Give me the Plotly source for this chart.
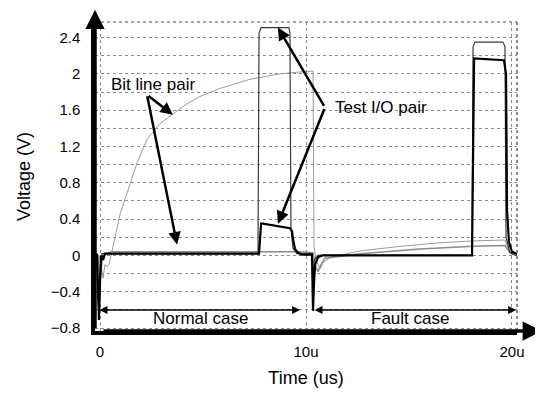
import plotly.graph_objects as go

# ---- data (time in us, voltage in V) ----
# Bit line (rising curve in normal case)
bl_t = [-0.24, -0.05, 0.05, 0.15, 0.24, 0.34, 0.44, 0.58, 0.78, 0.97, 1.36, 1.80, 2.28, 2.91, 3.54,
        4.22, 4.85, 5.83, 7.28, 8.74, 9.71, 10.34, 10.39, 10.49, 10.68, 10.83, 11.17, 12.62, 14.56,
        16.50, 18.11, 19.66, 19.85, 20.0, 20.24]
bl_v = [0.0, 0.0, -0.10, -0.25, -0.10, -0.12, -0.10, 0.05, 0.25, 0.45, 0.72, 1.02, 1.28, 1.45, 1.56,
        1.67, 1.75, 1.84, 1.94, 2.00, 2.02, 2.03, 0.10, -0.05, -0.15, -0.08, -0.02, 0.05, 0.10,
        0.14, 0.16, 0.17, 0.05, 0.01, 0.0]

# Bit line bar (stays low)
blb_t = [-0.24, -0.10, 0.0, 0.10, 0.29, 0.58, 9.71, 10.34, 10.44, 10.58, 10.73, 10.92, 12.62,
         15.53, 18.11, 19.66, 19.90, 20.24]
blb_v = [0.0, 0.0, -0.30, -0.05, 0.02, 0.04, 0.04, 0.03, -0.10, -0.18, -0.10, -0.03, 0.02,
         0.07, 0.10, 0.11, 0.03, 0.0]

# Test I/O (thin trace)
tio_t = [-0.24, -0.15, -0.10, -0.05, 0.0, 0.10, 7.67, 7.72, 7.82, 9.17, 9.22, 9.27, 9.37, 9.56,
         10.29, 10.34, 10.39, 10.58, 18.06, 18.11, 18.20, 19.56, 19.66, 19.71, 19.90, 20.24]
tio_v = [0.0, 0.0, -0.50, -0.60, -0.20, 0.02, 0.02, 2.45, 2.51, 2.51, 2.45, 0.30, 0.08, 0.02,
         0.02, -0.30, -0.05, 0.0, 0.0, 2.30, 2.35, 2.35, 2.30, 0.20, 0.03, 0.0]

# Test I/O bar (thick trace)
tiob_t = [-0.24, -0.15, -0.10, -0.05, 0.0, 0.05, 0.15, 0.24, 0.49, 7.72, 7.82, 7.91, 9.22, 9.32,
          9.37, 9.47, 9.61, 9.81, 10.29, 10.34, 10.39, 10.44, 10.58, 10.78, 18.06, 18.16, 19.61,
          19.71, 19.76, 19.85, 20.0, 20.24]
tiob_v = [0.01, 0.01, -0.30, -0.71, -0.30, 0.0, -0.05, 0.02, 0.02, 0.02, 0.35, 0.35, 0.30, 0.27,
          0.18, 0.07, 0.03, 0.01, 0.01, -0.61, -0.30, -0.10, -0.02, 0.0, 0.0, 2.17, 2.15,
          2.00, 0.50, 0.15, 0.04, 0.02]

x_tick_vals = [0, 10, 20]
x_tick_text = ["0", "10u", "20u"]
y_tick_vals = [-0.8, -0.4, 0, 0.4, 0.8, 1.2, 1.6, 2, 2.4]
y_tick_text = ["\u22120.8", "\u22120.4", "0", "0.4", "0.8", "1.2", "1.6", "2", "2.4"]
y_minor_vals = [-0.6, -0.2, 0.2, 0.6, 1.0, 1.4, 1.8, 2.2]

FONT = "Liberation Sans, Arial, sans-serif"

fig = go.Figure()
fig.add_trace(go.Scatter(x=bl_t, y=bl_v, mode="lines", line=dict(color="#9c9c9c", width=1)))
fig.add_trace(go.Scatter(x=blb_t, y=blb_v, mode="lines", line=dict(color="#8a8a8a", width=1.5)))
fig.add_trace(go.Scatter(x=tio_t, y=tio_v, mode="lines", line=dict(color="#3a3a3a", width=1.2)))
fig.add_trace(go.Scatter(x=tiob_t, y=tiob_v, mode="lines", line=dict(color="#000000", width=2.2)))

ann = []
# axis arrowheads
ann.append(dict(xref="paper", yref="paper", x=0, y=1.04, ax=0, ay=320, text="",
                showarrow=True, arrowhead=2, arrowsize=1.1, arrowwidth=3.5, arrowcolor="black"))
ann.append(dict(xref="paper", yref="paper", x=1.059, y=0, ax=-440, ay=0, text="",
                showarrow=True, arrowhead=2, arrowsize=1.1, arrowwidth=3.5, arrowcolor="black"))
# labels with arrows
ann.append(dict(x=2.57, y=1.88, text="Bit line pair", showarrow=False,
                font=dict(family=FONT, size=17, color="black")))
for tx, ty in [(3.54, 1.55), (3.74, 0.12)]:
    ann.append(dict(x=tx, y=ty, ax=2.28, ay=1.77, axref="x", ayref="y", text="",
                    showarrow=True, arrowhead=2, arrowsize=1, arrowwidth=2.5, arrowcolor="black",
                    standoff=0))
ann.append(dict(x=13.64, y=1.63, text="Test I/O pair", showarrow=False,
                font=dict(family=FONT, size=17, color="black")))
for tx, ty in [(8.64, 2.51), (8.64, 0.35)]:
    ann.append(dict(x=tx, y=ty, ax=10.92, ay=1.63, axref="x", ayref="y", text="",
                    showarrow=True, arrowhead=2, arrowsize=1, arrowwidth=2.5, arrowcolor="black",
                    standoff=0))
# case ranges
ann.append(dict(x=9.71, y=-0.6, ax=-0.10, ay=-0.6, axref="x", ayref="y", text="",
                showarrow=True, arrowhead=2, arrowside="end+start", arrowsize=1,
                arrowwidth=1.6, arrowcolor="black", standoff=0, startstandoff=0))
ann.append(dict(x=20.2, y=-0.6, ax=10.34, ay=-0.6, axref="x", ayref="y", text="",
                showarrow=True, arrowhead=2, arrowside="end+start", arrowsize=1,
                arrowwidth=1.6, arrowcolor="black", standoff=0, startstandoff=0))
ann.append(dict(x=4.9, y=-0.69, text="Normal case", showarrow=False,
                font=dict(family=FONT, size=17, color="black")))
ann.append(dict(x=15.05, y=-0.69, text="Fault case", showarrow=False,
                font=dict(family=FONT, size=17, color="black")))

shapes = [
    dict(type="line", xref="paper", yref="paper", x0=0, x1=1, y0=1, y1=1,
         line=dict(color="#8a8a8a", width=1.5, dash="dot")),
    dict(type="line", xref="paper", yref="paper", x0=1, x1=1, y0=0, y1=1,
         line=dict(color="#8a8a8a", width=2, dash="dot")),
]

# page has an 8px body margin: figure is 535x390 placed at (8, 8)
fig.update_layout(
    width=535, height=390,
    margin=dict(l=87, r=26, t=14, b=57),
    paper_bgcolor="white", plot_bgcolor="white",
    showlegend=False,
    font=dict(family=FONT, size=15, color="black"),
    annotations=ann, shapes=shapes,
    xaxis=dict(range=[-0.243, 20.243], tickvals=x_tick_vals, ticktext=x_tick_text,
               showgrid=True, gridcolor="#8a8a8a", griddash="dot", gridwidth=1,
               zeroline=False, showline=True, linecolor="black", linewidth=3.5,
               ticks="", ticklabelstandoff=4,
               title=dict(text="Time (us)", font=dict(family=FONT, size=18), standoff=14)),
    yaxis=dict(range=[-0.832, 2.571], tickvals=y_tick_vals, ticktext=y_tick_text,
               showgrid=True, gridcolor="#8a8a8a", griddash="dot", gridwidth=1,
               minor=dict(tickvals=y_minor_vals,
                          showgrid=True, gridcolor="#8a8a8a", griddash="dot", gridwidth=1),
               zeroline=False, showline=True, linecolor="black", linewidth=3.5,
               ticks="", ticklabelstandoff=8,
               title=dict(text="Voltage (V)", font=dict(family=FONT, size=18), standoff=16)),
)

fig.write_html("out.html")
